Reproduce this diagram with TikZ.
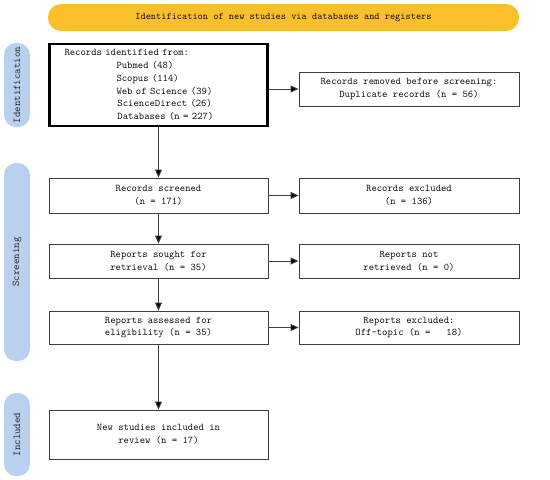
\documentclass[tikz,border=0pt]{standalone}
\usepackage{fontspec}
\usetikzlibrary{arrows.meta,calc}
\definecolor{bannercol}{HTML}{FBBF2C}
\definecolor{sidecol}{HTML}{B9D1EF}
\definecolor{txtcol}{HTML}{111111}
\definecolor{sidetxt}{HTML}{2A2A2A}
\definecolor{edgecol}{HTML}{404040}
\newcommand{\myfnt}{\fontsize{10.2}{12.8}\selectfont\ttfamily\addfontfeatures{FakeBold=0.6}}
\newcommand{\sidefnt}{\fontsize{10.4}{12.8}\selectfont\ttfamily\addfontfeatures{FakeBold=0.6}}
\tikzset{
  fnt/.style={font=\myfnt, text=txtcol},
  box/.style={fnt, draw=edgecol, line width=0.9pt, fill=white, minimum width=220pt, align=center, inner sep=0pt},
  thickbox/.style={fnt, draw=black, line width=2.6pt, fill=white, minimum width=218pt, minimum height=82pt, text width=188pt, align=left, inner sep=0pt},
  side/.style={font=\sidefnt, text=sidetxt, fill=sidecol, rounded corners=12pt, minimum height=26pt, inner sep=0pt, rotate=90},
  banner/.style={font=\fontsize{9.9}{12.7}\selectfont\ttfamily\addfontfeatures{FakeBold=0.6}, text=txtcol, fill=bannercol, rounded corners=13pt, minimum width=471pt, minimum height=27pt, inner sep=0pt},
  arr/.style={draw=edgecol, line width=0.9pt, -{Triangle[length=8pt,width=7pt,fill=black]}}
}
\begin{document}
\begin{tikzpicture}[x=1pt,y=-1pt]
\useasboundingbox[fill=white] (0,0) rectangle (550,480);
% banner
\node[banner] (ban) at (283.5,17.5) {Identification of new studies via databases and registers};
% side labels
\node[side, minimum width=84pt] (sid) at (17,85) {Identification};
\node[side, minimum width=198pt] (sscr) at (17,262) {Screening};
\node[side, minimum width=83pt] (sinc) at (17,434.5) {Included};
% boxes
\node[thickbox] (id) at (158.5,85) {Records identified from:\\
\hspace*{52pt}Pubmed (48)\\
\hspace*{52pt}Scopus (114)\\
\hspace*{52pt}Web of Science (39)\\
\hspace*{53pt}ScienceDirect (26)\\
\hspace*{53pt}Databases (n = 227)};
\node[box, minimum height=34pt] (rem) at (409,89) {Records removed before screening:\\Duplicate records (n = 56)};
\node[box, minimum height=35pt, minimum width=219pt] (scr) at (158.5,195.5) {Records screened\\(n = 171)};
\node[box, minimum height=35pt] (exc) at (409,195.5) {Records excluded\\(n = 136)};
\node[box, minimum height=34pt, minimum width=219pt] (sou) at (158.5,261) {Reports sought for\\retrieval (n = 35)};
\node[box, minimum height=34pt] (nret) at (409,261) {Reports not\\retrieved (n = 0)};
\node[box, minimum height=33pt, minimum width=219pt] (ass) at (158.5,327.5) {Reports assessed for\\eligibility (n = 35)};
\node[box, minimum height=33pt] (rexc) at (409,327.5) {Reports excluded:\\Off-topic (n = \ \ 18)};
\node[box, minimum height=49pt, minimum width=219pt] (inc) at (158.5,434.5) {New studies included in\\review (n = 17)};
% connectors
\draw[arr] (id.east |- rem.west) -- (rem.west);
\draw[arr] (scr.east) -- (exc.west);
\draw[arr] (sou.east) -- (nret.west);
\draw[arr] (ass.east) -- (rexc.west);
\draw[arr] (id.south) -- (scr.north);
\draw[arr] (scr.south) -- (sou.north);
\draw[arr] (sou.south) -- (ass.north);
\draw[arr] (ass.south) -- (inc.north);
\end{tikzpicture}
\end{document}
